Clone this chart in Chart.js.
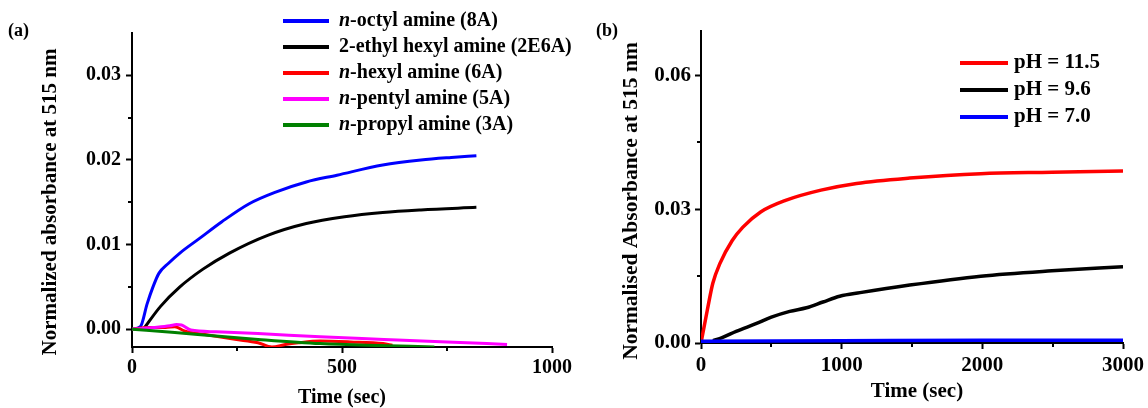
<!DOCTYPE html>
<html>
<head>
<meta charset="utf-8">
<script src="https://cdn.jsdelivr.net/npm/chart.js@4.4.0/dist/chart.umd.min.js"></script>
<style>
  html, body { margin: 0; padding: 0; background: #fff; }
  #wrap { position: relative; width: 1148px; height: 408px; }
  .panel { position: absolute; top: 0; height: 408px; }
</style>
</head>
<body>
<div id="wrap">
  <div class="panel" style="left:0;width:590px"><canvas id="chartA"></canvas></div>
  <div class="panel" style="left:590px;width:558px"><canvas id="chartB"></canvas></div>
</div>
<script>
// ---- panel (a): amine series ----
var amineLabels = ['n-octyl amine (8A)', '2-ethyl hexyl amine (2E6A)', 'n-hexyl amine (6A)', 'n-pentyl amine (5A)', 'n-propyl amine (3A)'];
var amineColors = ['#0000ff', '#000000', '#ff0000', '#ff00ff', '#008000'];

var tOctyl = [0, 20, 36, 50, 64, 87, 114, 160, 214, 278, 342, 415, 488, 597, 688, 760, 820];
var aOctyl = [0, 0.0003, 0.003, 0.0050, 0.0066, 0.0078, 0.0090, 0.0107, 0.0127, 0.0148, 0.0162, 0.0174, 0.0182, 0.0194, 0.0200, 0.0203, 0.0205];

var tEthylHexyl = [27, 68, 114, 169, 232, 323, 415, 506, 597, 688, 820];
var aEthylHexyl = [0, 0.0027, 0.0050, 0.0071, 0.0090, 0.0111, 0.0125, 0.0133, 0.0138, 0.0141, 0.0144];

var tHexyl = [0, 40, 80, 102, 125, 170, 245, 300, 333, 365, 396, 448, 520, 598, 620];
var aHexyl = [0, 0.0002, 0.0002, 0.0003, -0.0002, -0.0006, -0.0012, -0.0016, -0.0021, -0.0018, -0.0016, -0.0014, -0.0015, -0.0017, -0.0019];

var tPentyl = [0, 50, 90, 106, 118, 140, 200, 300, 448, 600, 750, 893];
var aPentyl = [0, 0.0002, 0.0004, 0.00055, 0.0005, -0.0001, -0.0003, -0.0005, -0.0009, -0.0012, -0.0015, -0.0018];

var tPropyl = [0, 102, 200, 300, 448, 560, 662, 720];
var aPropyl = [0, -0.0004, -0.0008, -0.0012, -0.0017, -0.0019, -0.0020, -0.0021];

var ticksAX = [0, 500, 1000];
var minorAX = [250, 750];
var ticksAY = [0, 0.01, 0.02, 0.03];
var minorAY = [0.005, 0.015, 0.025];

// ---- panel (b): pH series ----
var phLabels = ['pH = 11.5', 'pH = 9.6', 'pH = 7.0'];
var phColors = ['#ff0000', '#000000', '#0000ff'];

var tPh115 = [0, 45, 84, 134, 222, 298, 424, 601, 853, 1106, 1484, 1989, 2494, 3000];
var aPh115 = [0, 0.0074, 0.0134, 0.0178, 0.0230, 0.0260, 0.0294, 0.0320, 0.0343, 0.0358, 0.0370, 0.0380, 0.0383, 0.0386];

var tPh96 = [85, 150, 250, 395, 500, 631, 750, 867, 986, 1131, 1484, 1989, 2494, 3000];
var aPh96 = [0.0005, 0.0012, 0.0026, 0.0044, 0.0058, 0.0071, 0.0079, 0.0092, 0.0105, 0.0113, 0.0130, 0.0150, 0.0162, 0.0171];

var tPh70 = [0, 1000, 2000, 3000];
var aPh70 = [0.0004, 0.0005, 0.0006, 0.0006];

var ticksBX = [0, 1000, 2000, 3000];
var minorBX = [500, 1500, 2500];
var ticksBY = [0, 0.03, 0.06];
var minorBY = [0.015, 0.045];

var FONT = '"Liberation Serif", "Times New Roman", serif';

function pts(ts, vs) {
    return ts.map(function (t, i) { return { x: t, y: vs[i] }; });
}

function series(label, color, ts, vs, width, i) {
    return {
        label: label,
        data: pts(ts, vs),
        borderColor: color,
        backgroundColor: color,
        borderWidth: width,
        pointRadius: 0,
        showLine: true,
        cubicInterpolationMode: 'monotone',
        order: -i
    };
}

// minor ticks, axis titles, legend with italic "n", and the panel tag
var decorPlugin = {
    id: 'decor',
    afterDraw: function (chart, args, opts) {
        var ctx = chart.ctx;
        var xs = chart.scales.x, ys = chart.scales.y;
        ctx.save();
        ctx.strokeStyle = '#000';
        ctx.lineWidth = 2;
        opts.minorX.forEach(function (v) {
            var px = Math.round(xs.getPixelForValue(v));
            ctx.beginPath(); ctx.moveTo(px, ys.bottom); ctx.lineTo(px, ys.bottom + 4); ctx.stroke();
        });
        opts.minorY.forEach(function (v) {
            var py = Math.round(ys.getPixelForValue(v));
            ctx.beginPath(); ctx.moveTo(xs.left, py); ctx.lineTo(xs.left - 4, py); ctx.stroke();
        });

        // axis titles
        var tt = opts.titles;
        ctx.fillStyle = '#000';
        ctx.textAlign = 'center';
        ctx.textBaseline = 'middle';
        ctx.font = 'bold ' + tt.xSize + 'px ' + FONT;
        ctx.fillText(tt.x, tt.xPos[0], tt.xPos[1]);
        ctx.save();
        ctx.translate(tt.yPos[0], tt.yPos[1]);
        ctx.rotate(-Math.PI / 2);
        ctx.font = 'bold ' + tt.ySize + 'px ' + FONT;
        ctx.fillText(tt.y, 0, 0);
        ctx.restore();

        var lg = opts.legend;
        ctx.textAlign = 'left';
        chart.data.datasets.forEach(function (ds, i) {
            var y = lg.y + i * lg.dy;
            ctx.strokeStyle = ds.borderColor;
            ctx.lineWidth = 4;
            ctx.beginPath(); ctx.moveTo(lg.x0, y); ctx.lineTo(lg.x1, y); ctx.stroke();
            var tx = lg.textX;
            var text = ds.label;
            ctx.fillStyle = '#000';
            if (text.indexOf('n-') === 0) {
                ctx.font = 'italic bold ' + lg.size + 'px ' + FONT;
                ctx.fillText('n', tx, y);
                tx += ctx.measureText('n').width;
                text = text.slice(1);
            }
            ctx.font = 'bold ' + lg.size + 'px ' + FONT;
            ctx.fillText(text, tx, y);
        });

        ctx.font = 'bold ' + opts.tag.size + 'px ' + FONT;
        ctx.fillStyle = '#000';
        ctx.fillText(opts.tag.text, opts.tag.x, opts.tag.y);
        ctx.restore();
    }
};

function makeChart(id, cfg) {
    return new Chart(document.getElementById(id), {
        type: 'scatter',
        data: { datasets: cfg.datasets },
        options: {
            responsive: true,
            maintainAspectRatio: false,
            animation: false,
            layout: { padding: { left: 0, right: cfg.padRight, top: cfg.padTop, bottom: 0 } },
            plugins: {
                legend: { display: false },
                tooltip: { enabled: false },
                decor: cfg.decor
            },
            scales: {
                x: {
                    type: 'linear',
                    min: cfg.xMin, max: cfg.xMax,
                    afterBuildTicks: function (s) { s.ticks = cfg.xTicks.map(function (v) { return { value: v }; }); },
                    afterFit: function (s) { s.height = cfg.xHeight; },
                    border: { color: '#000', width: 2 },
                    grid: { drawOnChartArea: false, color: '#000', tickColor: '#000', tickLength: 6, tickWidth: 2 },
                    ticks: {
                        color: '#000', padding: cfg.xTickPad, maxRotation: 0,
                        font: { family: FONT, weight: 'bold', size: cfg.fontSize },
                        callback: function (v) { return String(v); }
                    }
                },
                y: {
                    type: 'linear',
                    min: cfg.yMin, max: cfg.yMax,
                    afterBuildTicks: function (s) { s.ticks = cfg.yTicks.map(function (v) { return { value: v }; }); },
                    afterFit: function (s) { s.width = cfg.yWidth; },
                    border: { color: '#000', width: 2 },
                    grid: { drawOnChartArea: false, color: '#000', tickColor: '#000', tickLength: 6, tickWidth: 2 },
                    ticks: {
                        color: '#000', padding: cfg.yTickPad,
                        font: { family: FONT, weight: 'bold', size: cfg.fontSize },
                        callback: function (v) { return v.toFixed(2); }
                    }
                }
            }
        },
        plugins: [decorPlugin]
    });
}

var amineT = [tOctyl, tEthylHexyl, tHexyl, tPentyl, tPropyl];
var amineA = [aOctyl, aEthylHexyl, aHexyl, aPentyl, aPropyl];
makeChart('chartA', {
    datasets: amineLabels.map(function (l, i) { return series(l, amineColors[i], amineT[i], amineA[i], 3, i); }),
    xMin: 0, xMax: 1000, xTicks: ticksAX,
    yMin: -0.0021, yMax: 0.035, yTicks: ticksAY,
    padRight: 38, padTop: 33, xHeight: 61, yWidth: 132,
    fontSize: 20, xTickPad: 3, yTickPad: 5,
    decor: {
        minorX: minorAX, minorY: minorAY,
        titles: { x: 'Time (sec)', xPos: [342, 398], xSize: 20, y: 'Normalized absorbance at 515 nm', yPos: [51, 202], ySize: 21 },
        legend: { x0: 283, x1: 329, textX: 339, y: 21, dy: 26, size: 20 },
        tag: { text: '(a)', x: 8, y: 31, size: 18 }
    }
});

var phT = [tPh115, tPh96, tPh70];
var phA = [aPh115, aPh96, aPh70];
makeChart('chartB', {
    datasets: phLabels.map(function (l, i) { return series(l, phColors[i], phT[i], phA[i], 3.5, i); }),
    xMin: 0, xMax: 3000, xTicks: ticksBX,
    yMin: 0, yMax: 0.07, yTicks: ticksBY,
    padRight: 24, padTop: 31, xHeight: 65, yWidth: 111,
    fontSize: 21, xTickPad: 4, yTickPad: 4,
    decor: {
        minorX: minorBX, minorY: minorBY,
        titles: { x: 'Time (sec)', xPos: [327, 392], xSize: 21, y: 'Normalised Absorbance at 515 nm', yPos: [41, 201], ySize: 21.5 },
        legend: { x0: 370, x1: 418, textX: 424, y: 63, dy: 27, size: 21 },
        tag: { text: '(b)', x: 6, y: 31, size: 18 }
    }
});
</script>
</body>
</html>
